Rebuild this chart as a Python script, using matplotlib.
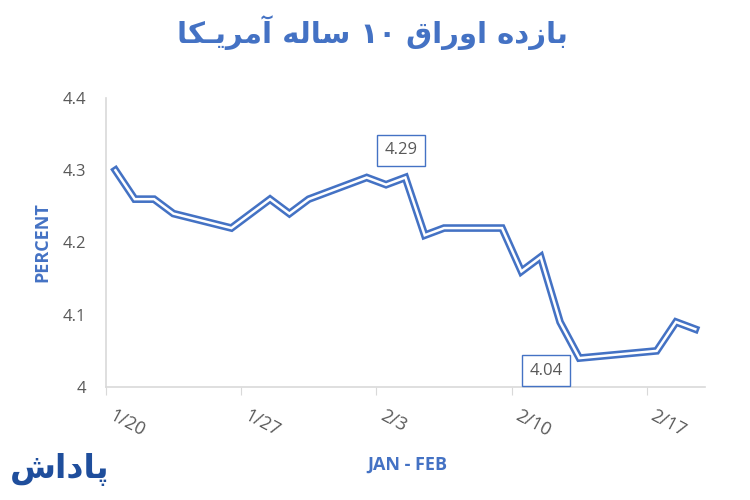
import pandas as pd
import matplotlib
matplotlib.use('Agg')
import matplotlib.pyplot as plt
import matplotlib.transforms as mtransforms

# 10-year US treasury yield, Jan-Feb
dates = ['2026-01-20', '2026-01-21', '2026-01-22', '2026-01-23', '2026-01-26',
         '2026-01-27', '2026-01-28', '2026-01-29', '2026-01-30', '2026-02-02',
         '2026-02-03', '2026-02-04', '2026-02-05', '2026-02-06', '2026-02-09',
         '2026-02-10', '2026-02-11', '2026-02-12', '2026-02-13', '2026-02-17',
         '2026-02-18', '2026-02-19']
yields = [4.30, 4.26, 4.26, 4.24, 4.22,
          4.24, 4.26, 4.24, 4.26, 4.29,
          4.28, 4.29, 4.21, 4.22, 4.22,
          4.16, 4.18, 4.09, 4.04, 4.05,
          4.09, 4.08]
tick_labels = ['1/20', '1/27', '2/3', '2/10', '2/17']
y_ticks = [4.0, 4.1, 4.2, 4.3, 4.4]
y_tick_labels = ['4', '4.1', '4.2', '4.3', '4.4']
annotated = {'2026-02-04': '4.29', '2026-02-13': '4.04'}

# Persian text written in shaped presentation forms, visual (left-to-right) order
title_text = ('\uFE8E\uFB91\u0640\uFBFE\uFEAE\uFEE3\uFE81 '
              '\uFEEA\uFEDF\uFE8E\uFEB3 '
              '\u06F1\u06F0 '
              '\uFED5\uFE8D\uFEAD\uFEED\uFE8D '
              '\uFEE9\uFEA9\uFEAF\uFE8E\uFE91')
logo_text = '\uFEB5\uFE8D\uFEA9\uFE8E\uFB58'

BLUE = '#4472C4'
GRAY_TXT = '#595959'
AXIS_GRAY = '#D9D9D9'

start = pd.Timestamp(dates[0])
x = [(pd.Timestamp(d) - start).days + 0.5 for d in dates]
tick_pos = [0, 7, 14, 21, 28]

fig = plt.figure(figsize=(7.5, 5), dpi=100)
ax = fig.add_axes([0.141, 0.226, 0.799, 0.578])

# double-line look: thick blue stroke with thin white core
ax.plot(x, yields, color=BLUE, linewidth=5.5, solid_joinstyle='miter', zorder=3)
ax.plot(x, yields, color='white', linewidth=1.8, solid_joinstyle='miter', zorder=4)

ax.set_xlim(0, 31)
ax.set_ylim(4.0, 4.4)
ax.set_xticks(tick_pos)
ax.set_xticklabels([])
# rotated date labels, sitting a little right of and below each tick
shift = mtransforms.ScaledTranslation(9 / 100, -20 / 100, fig.dpi_scale_trans)
for pos, lab in zip(tick_pos, tick_labels):
    ax.text(pos, 0, lab, transform=ax.get_xaxis_transform() + shift,
            rotation=-28, rotation_mode='anchor', ha='left', va='top',
            fontsize=13, color=GRAY_TXT, family='Open Sans')
ax.set_yticks(y_ticks)
ax.set_yticklabels(y_tick_labels, fontsize=12, color=GRAY_TXT, family='Open Sans')
ax.tick_params(axis='y', length=0, pad=14)
ax.tick_params(axis='x', length=6, color=AXIS_GRAY)

for side in ['top', 'right']:
    ax.spines[side].set_visible(False)
for side in ['left', 'bottom']:
    ax.spines[side].set_color(AXIS_GRAY)
    ax.spines[side].set_linewidth(1.2)

# data labels
for d, lab in annotated.items():
    i = dates.index(d)
    if lab == '4.29':
        off = (-3, 19.5)
    else:
        off = (-24, -9)
    ax.annotate(lab, (x[i], yields[i]), xytext=off, textcoords='offset points',
                ha='center', va='center', fontsize=12, color=GRAY_TXT,
                family='Open Sans',
                bbox=dict(boxstyle='square,pad=0.45', facecolor='white',
                          edgecolor=BLUE, linewidth=1.0), zorder=5)

ax.set_ylabel('PERCENT', fontsize=13, fontweight='bold', color=BLUE,
              family='Open Sans', labelpad=8)
fig.text(0.543, 0.07, 'JAN - FEB', fontsize=13, fontweight='bold', color=BLUE,
         family='Open Sans', ha='center', va='center')

fig.text(0.497, 0.935, title_text, fontsize=21, fontweight='bold', color=BLUE,
         family='DejaVu Sans', ha='center', va='center')
fig.text(0.08, 0.06, logo_text, fontsize=24, fontweight='bold', color='#1F4E9C',
         family='DejaVu Sans', ha='center', va='center')

fig.savefig('out.png', dpi=100, facecolor='white')
